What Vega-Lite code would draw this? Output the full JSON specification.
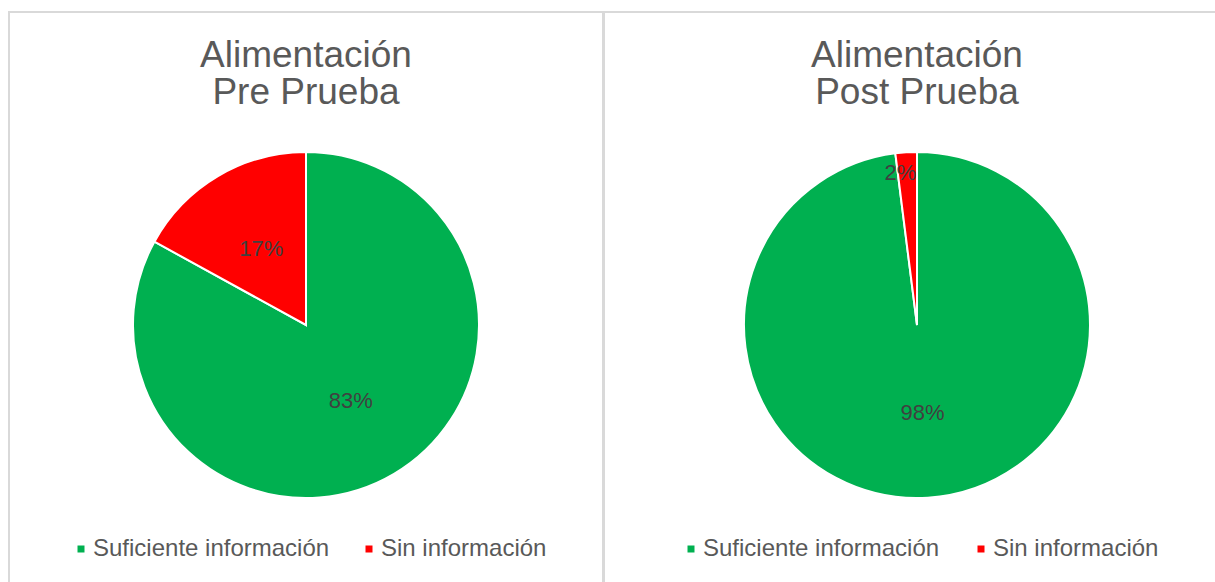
{
  "$schema": "https://vega.github.io/schema/vega-lite/v6.json",
  "background": "white",
  "padding": {"left": 8, "top": 11, "right": 0, "bottom": 0},
  "spacing": -3,
  "config": {
    "view": {"stroke": "#d9d9d9", "strokeWidth": 2},
    "font": "Liberation Sans"
  },
  "datasets": {
    "pre": [
      {"categoria": "Suficiente información", "valor": 0.83},
      {"categoria": "Sin información", "valor": 0.17}
    ],
    "post": [
      {"categoria": "Suficiente información", "valor": 0.98},
      {"categoria": "Sin información", "valor": 0.02}
    ]
  },
  "resolve": {"legend": {"color": "independent"}, "scale": {"theta": "independent"}},
  "hconcat": [
    {
      "width": 594,
      "height": 626,
      "view": {"stroke": "#d9d9d9", "strokeWidth": 2},
      "title": {"text": ["Alimentación", "Pre Prueba"], "fontSize": 37, "font": "Liberation Sans", "fontWeight": "normal", "color": "#595959", "offset": -100, "anchor": "middle", "frame": "group", "lineHeight": 37},
      "data": {"name": "pre"},
      "encoding": {
        "theta": {"field": "valor", "type": "quantitative", "stack": true},
        "order": {"field": "valor", "type": "quantitative", "sort": "descending"},
        "color": {
          "field": "categoria", "type": "nominal",
          "scale": {"domain": ["Suficiente información", "Sin información"], "range": ["#00b050", "#ff0000"]},
          "legend": {"orient": "none", "legendX": 60, "legendY": 525, "direction": "horizontal", "title": null, "symbolType": "square", "symbolSize": 49, "symbolStrokeWidth": 0, "labelFontSize": 24, "labelColor": "#595959", "labelFont": "Liberation Sans", "columnPadding": 27, "labelOffset": 0, "labelLimit": 400}
        }
      },
      "layer": [
        {"mark": {"type": "arc", "outerRadius": 173, "stroke": "white", "strokeWidth": 2}},
        {"mark": {"type": "text", "radius": 88, "fontSize": 22, "font": "Liberation Sans"},
         "encoding": {"text": {"field": "valor", "type": "quantitative", "format": ".0%"}, "color": {"value": "#404040"}}}
      ]
    },
    {
      "width": 626,
      "height": 626,
      "view": {"stroke": "#d9d9d9", "strokeWidth": 2},
      "title": {"text": ["Alimentación", "Post Prueba"], "fontSize": 37, "font": "Liberation Sans", "fontWeight": "normal", "color": "#595959", "offset": -100, "anchor": "middle", "frame": "group", "lineHeight": 37},
      "data": {"name": "post"},
      "encoding": {
        "theta": {"field": "valor", "type": "quantitative", "stack": true},
        "order": {"field": "valor", "type": "quantitative", "sort": "descending"},
        "color": {
          "field": "categoria", "type": "nominal",
          "scale": {"domain": ["Suficiente información", "Sin información"], "range": ["#00b050", "#ff0000"]},
          "legend": {"orient": "none", "legendX": 75, "legendY": 525, "direction": "horizontal", "title": null, "symbolType": "square", "symbolSize": 49, "symbolStrokeWidth": 0, "labelFontSize": 24, "labelColor": "#595959", "labelFont": "Liberation Sans", "columnPadding": 29, "labelOffset": 0, "labelLimit": 400}
        }
      },
      "layer": [
        {"mark": {"type": "arc", "outerRadius": 173, "stroke": "white", "strokeWidth": 2}},
        {"mark": {"type": "text", "radius": 88, "fontSize": 22, "font": "Liberation Sans"},
         "encoding": {"text": {"field": "valor", "type": "quantitative", "format": ".0%"}, "color": {"value": "#404040"},
           "opacity": {"condition": {"test": "datum.valor < 0.05", "value": 0}, "value": 1}}},
        {"mark": {"type": "text", "radius": 152, "dx": -7, "fontSize": 22, "font": "Liberation Sans"},
         "encoding": {"text": {"field": "valor", "type": "quantitative", "format": ".0%"}, "color": {"value": "#404040"},
           "opacity": {"condition": {"test": "datum.valor < 0.05", "value": 1}, "value": 0}}}
      ]
    }
  ]
}
